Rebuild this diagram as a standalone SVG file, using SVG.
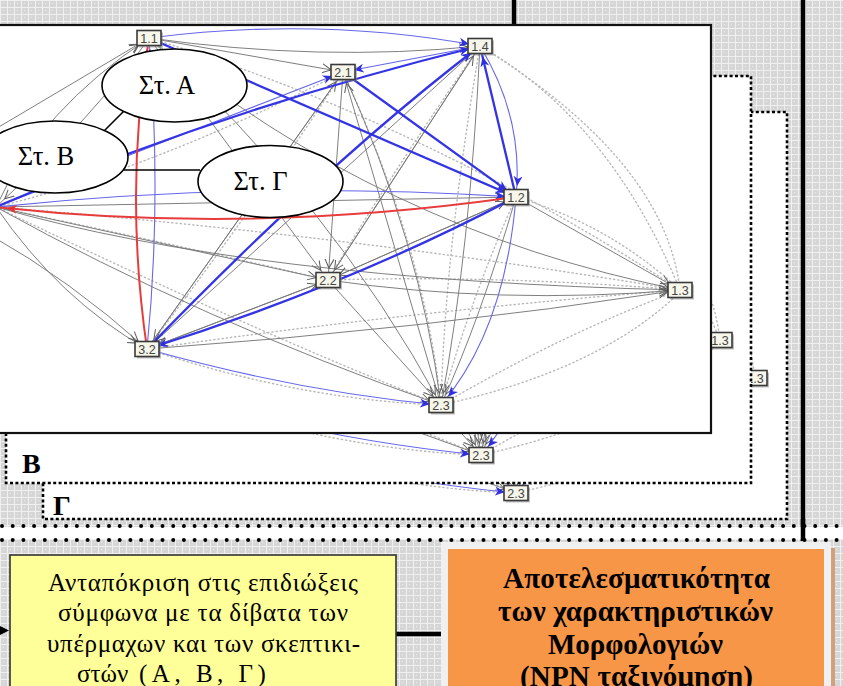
<svg xmlns="http://www.w3.org/2000/svg" xmlns:xlink="http://www.w3.org/1999/xlink" width="843" height="686" viewBox="0 0 843 686">
<defs>
<pattern id="grid" width="7" height="7" patternUnits="userSpaceOnUse">
<rect width="7" height="7" fill="#d6d6d6"/>
<path d="M0,0.5H7M0.5,0V7" stroke="#f0f0f0" stroke-width="1"/>
<rect x="3" y="3" width="1" height="1" fill="#ebebeb"/>
</pattern>
<marker id="mg" markerUnits="userSpaceOnUse" viewBox="0 0 30 12" markerWidth="30" markerHeight="12" refX="21" refY="6" orient="auto"><path d="M0,1.5 L9,6 L0,10.5" fill="none" stroke="#5a5a5a" stroke-width="1"/></marker>
<marker id="mb" markerUnits="userSpaceOnUse" viewBox="0 0 30 12" markerWidth="30" markerHeight="12" refX="21" refY="6" orient="auto"><path d="M0,1.5 L10,6 L0,10.5 L3,6 Z" fill="#2f2fe0"/></marker>
<marker id="mr" markerUnits="userSpaceOnUse" viewBox="0 0 30 12" markerWidth="30" markerHeight="12" refX="21" refY="6" orient="auto"><path d="M0,1.5 L10,6 L0,10.5 L3,6 Z" fill="#e83030"/></marker>
<clipPath id="cF"><rect x="0" y="26" width="710" height="406"/></clipPath>
<clipPath id="cB"><rect x="6" y="76" width="745" height="407"/></clipPath>
<clipPath id="cG"><rect x="43" y="112" width="744" height="407"/></clipPath>
</defs>
<style>
.g{fill:none;stroke:#787878;stroke-width:0.95;marker-end:url(#mg)}
.d{fill:none;stroke:#b8b8b8;stroke-width:1.4;stroke-dasharray:1.2 3;stroke-linecap:round}
.b{fill:none;stroke:#3434e4;stroke-width:2.3;marker-end:url(#mb)}
.bt{fill:none;stroke:#6666ea;stroke-width:1.1;marker-end:url(#mb)}
.r{fill:none;stroke:#e83c3c;stroke-width:2;marker-end:url(#mr)}
.nb{fill:#f6f6ea;stroke:#3a3a3a;stroke-width:1.6}
.ns{fill:#8a8a8a;opacity:.55}
.nt{font-family:"Liberation Sans",Arial,sans-serif;font-size:12.5px;fill:#444;text-anchor:middle}
.el{fill:#fff;stroke:#000;stroke-width:1.6}
.et{font-family:"Liberation Serif","Times New Roman",serif;font-size:26.5px;fill:#000;text-anchor:middle}
.lbl{font-family:"Liberation Serif","Times New Roman",serif;font-size:28px;font-weight:bold;fill:#000}
.dots{stroke:#000;stroke-width:4;stroke-linecap:round;stroke-dasharray:0 10.7;fill:none}
.yt{font-family:"Liberation Serif","Times New Roman",serif;font-size:25px;text-anchor:middle;fill:#000}
.ot{font-family:"Liberation Serif","Times New Roman",serif;font-size:29px;font-weight:bold;text-anchor:middle;fill:#000}
.conn{stroke:#000;fill:none}
</style>

<rect width="843" height="686" fill="url(#grid)"/>
<line x1="514" y1="0" x2="514" y2="26" stroke="#000" stroke-width="4.5"/>
<line x1="803" y1="0" x2="803" y2="541" stroke="#000" stroke-width="4.5"/>

<g id="panelG">
<rect x="43" y="112" width="744" height="407" fill="#fff"/>
<g clip-path="url(#cG)"><use xlink:href="#graph" transform="translate(75,88)"/></g>
<rect x="43" y="112" width="744" height="407" fill="none" stroke="#000" stroke-width="2.6" stroke-dasharray="3 2.4"/>
<text class="lbl" x="53" y="515">Γ</text>
</g>

<g id="panelB">
<rect x="6" y="76" width="745" height="407" fill="#fff"/>
<g clip-path="url(#cB)"><use xlink:href="#graph" transform="translate(40,50)"/></g>
<rect x="6" y="76" width="745" height="407" fill="none" stroke="#000" stroke-width="2.6" stroke-dasharray="3 2.4"/>
<text class="lbl" x="22" y="473">Β</text>
</g>

<g id="panelA">
<rect x="-5" y="25" width="716" height="408" fill="#fff"/>
<g clip-path="url(#cF)">
<g id="graph">
<g id="graph-connectors">
<path class="d" d="M480,46 Q610,120 680,290"/>
<path class="d" d="M480,46 Q665,160 680,290"/>
<path class="d" d="M516,197 Q610,225 680,290"/>
<path class="d" d="M441,405 Q560,335 680,290"/>
<path class="d" d="M441,405 Q600,370 680,292"/>
<path class="d" d="M147,349 Q300,400 441,405"/>
<path class="d" d="M-4,207 Q200,250 328,280"/>
<path class="d" d="M-4,207 Q250,330 441,405"/>
<path class="d" d="M343,72 Q425,250 441,405"/>
<path class="d" d="M480,46 Q445,250 441,405"/>
<path class="d" d="M328,280 Q500,275 680,290"/>
<path class="d" d="M-4,207 Q350,235 680,290"/>
<path class="d" d="M516,197 Q470,300 441,405"/>
<path class="d" d="M147,349 Q420,310 680,290"/>
<path class="d" d="M149,38 Q420,120 680,290"/>
<path class="d" d="M-4,207 Q150,170 343,72"/>
<path class="d" d="M147,349 Q260,200 343,72"/>
<path class="d" d="M328,280 Q400,160 480,46"/>

<path class="g" d="M149,38 Q320,62 480,46"/>
<path class="g" d="M149,38 L343,72"/>
<path class="g" d="M149,38 Q380,230 680,290"/>
<path class="g" d="M149,38 L328,280"/>
<path class="g" d="M149,38 Q330,200 441,405"/>
<path class="g" d="M-4,207 Q40,110 149,38"/>
<path class="g" d="M-40,150 L149,38"/>
<path class="g" d="M-4,207 Q250,280 680,290"/>
<path class="g" d="M-4,207 L328,280"/>
<path class="g" d="M-4,207 Q200,320 441,405"/>
<path class="g" d="M-4,207 Q60,300 147,349"/>
<path class="g" d="M-10,235 Q70,280 147,349"/>
<path class="g" d="M-4,207 L516,197"/>
<path class="g" d="M480,46 L328,280"/>
<path class="g" d="M480,46 Q470,250 441,405"/>
<path class="g" d="M480,46 L147,349"/>
<path class="g" d="M343,72 L328,280"/>
<path class="g" d="M343,72 L147,349"/>
<path class="g" d="M343,72 Q420,240 441,405"/>
<path class="g" d="M516,197 L680,290"/>
<path class="g" d="M516,197 L328,280"/>
<path class="g" d="M516,197 Q480,320 441,405"/>
<path class="g" d="M328,280 Q500,305 680,290"/>
<path class="g" d="M328,280 L147,349"/>
<path class="g" d="M328,280 L441,405"/>
<path class="g" d="M147,349 Q420,330 680,290"/>
<path class="g" d="M147,349 L328,280"/>
<path class="g" d="M328,280 L516,197"/>
<path class="g" d="M328,280 L480,46"/>
<path class="g" d="M149,38 Q100,110 -4,207"/>
<path class="g" d="M147,349 L343,72"/>
<path class="g" d="M441,405 L343,72"/>

<path class="bt" d="M-4,207 L343,72"/>
<path class="bt" d="M480,46 Q524,118 516,197"/>
<path class="bt" d="M147,349 Q162,200 149,38"/>
<path class="bt" d="M149,38 Q320,16 480,46"/>
<path class="bt" d="M516,197 Q505,330 441,405"/>
<path class="bt" d="M-4,207 Q250,180 516,197"/>
<path class="bt" d="M147,349 Q300,392 441,405"/>
<path class="bt" d="M480,46 L343,72"/>

<path class="b" d="M-4,207 Q220,110 480,46"/>
<path class="b" d="M149,38 L516,197"/>
<path class="b" d="M343,72 L516,197"/>
<path class="b" d="M516,197 L480,46"/>
<path class="b" d="M147,349 Q330,160 480,46"/>
<path class="b" d="M516,197 Q350,285 147,349"/>

<path class="r" d="M516,197 Q250,235 -4,207"/>
<path class="r" d="M147,349 Q124,190 149,38"/>
</g>
<g id="n11" transform="translate(149,38)"><rect class="ns" x="-10" y="-5.5" width="24" height="15"/><rect class="nb" x="-12" y="-7.5" width="24" height="15"/><text class="nt" y="4.5">1.1</text></g>
<g id="n14" transform="translate(480,46)"><rect class="ns" x="-10" y="-5.5" width="24" height="15"/><rect class="nb" x="-12" y="-7.5" width="24" height="15"/><text class="nt" y="4.5">1.4</text></g>
<g id="n21" transform="translate(343,72)"><rect class="ns" x="-10" y="-5.5" width="24" height="15"/><rect class="nb" x="-12" y="-7.5" width="24" height="15"/><text class="nt" y="4.5">2.1</text></g>
<g id="n12" transform="translate(516,197)"><rect class="ns" x="-10" y="-5.5" width="24" height="15"/><rect class="nb" x="-12" y="-7.5" width="24" height="15"/><text class="nt" y="4.5">1.2</text></g>
<g id="n13" transform="translate(680,290)"><rect class="ns" x="-10" y="-5.5" width="24" height="15"/><rect class="nb" x="-12" y="-7.5" width="24" height="15"/><text class="nt" y="4.5">1.3</text></g>
<g id="n22" transform="translate(328,280)"><rect class="ns" x="-10" y="-5.5" width="24" height="15"/><rect class="nb" x="-12" y="-7.5" width="24" height="15"/><text class="nt" y="4.5">2.2</text></g>
<g id="n32" transform="translate(147,349)"><rect class="ns" x="-10" y="-5.5" width="24" height="15"/><rect class="nb" x="-12" y="-7.5" width="24" height="15"/><text class="nt" y="4.5">3.2</text></g>
<g id="n23" transform="translate(441,405)"><rect class="ns" x="-10" y="-5.5" width="24" height="15"/><rect class="nb" x="-12" y="-7.5" width="24" height="15"/><text class="nt" y="4.5">2.3</text></g>
</g>
</g>
<rect x="-5" y="25" width="716" height="408" fill="none" stroke="#111" stroke-width="2.2"/>
</g>

<g id="connectors">
<line class="conn" x1="131" y1="104" x2="102" y2="133" stroke-width="1.6"/>
<line class="conn" x1="124" y1="170" x2="200" y2="170" stroke-width="1.6"/>
<line class="conn" x1="396" y1="634" x2="442" y2="634" stroke-width="4.5"/>
<polygon points="0,626 9,630.5 0,635" fill="#000"/>
</g>

<g id="stA"><ellipse class="el" cx="174.5" cy="85.5" rx="72.5" ry="36.5"/><text class="et" x="167" y="94">Στ. Α</text></g>
<g id="stB"><ellipse class="el" cx="55" cy="157" rx="73" ry="36"/><text class="et" x="46" y="165">Στ. Β</text></g>
<g id="stG"><ellipse class="el" cx="270.5" cy="181.5" rx="72.5" ry="36"/><text class="et" x="260.5" y="190">Στ. Γ</text></g>

<rect x="0" y="527" width="843" height="12" fill="#fff"/>
<line x1="803" y1="519" x2="803" y2="541" stroke="#000" stroke-width="4.5"/>
<line class="dots" x1="2" y1="526" x2="843" y2="526"/>
<line class="dots" x1="2" y1="540" x2="843" y2="540"/>

<g id="boxY">
<rect x="10" y="555" width="386" height="140" fill="#ffff99" stroke="#333" stroke-width="1.6"/>
<text class="yt" x="203" y="591" textLength="310">Ανταπόκριση στις επιδιώξεις</text>
<text class="yt" x="203" y="621.3" textLength="290">σύμφωνα με τα δίβατα των</text>
<text class="yt" x="203.5" y="651.6" textLength="313">υπέρμαχων και των σκεπτικι-</text>
<text class="yt" x="77" y="682" style="text-anchor:start">στών<tspan letter-spacing="4.5"> (Α, Β, Γ)</tspan></text>
</g>

<g id="boxO">
<rect x="441" y="542" width="390" height="150" fill="#f0f0f0"/>
<rect x="448" y="549" width="376" height="145" fill="#f79646"/>
<rect x="831" y="548" width="4" height="140" fill="#d2a07a"/>
<text class="ot" x="636.5" y="588" textLength="267">Αποτελεσματικότητα</text>
<text class="ot" x="635.5" y="621" textLength="275">των χαρακτηριστικών</text>
<text class="ot" x="635.5" y="654" textLength="175">Μορφολογιών</text>
<text class="ot" x="636.5" y="686" textLength="233">(NPN ταξινόμηση)</text>
</g>
</svg>
